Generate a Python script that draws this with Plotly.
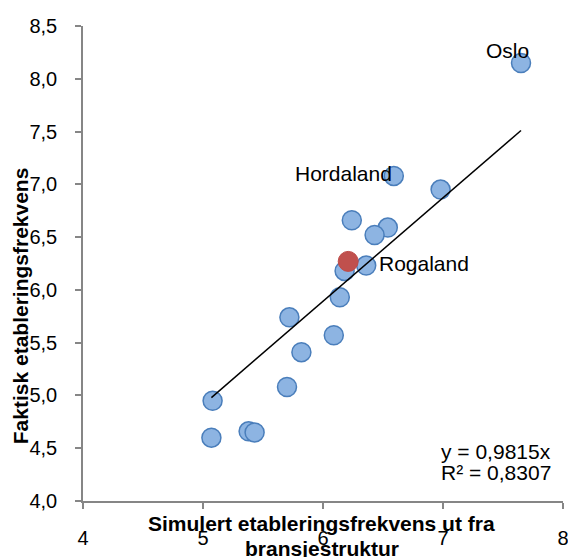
import plotly.graph_objects as go

# Data
region_x = [7.65, 6.59, 6.98, 6.24, 6.54, 6.43, 6.36, 6.18, 6.14, 5.72, 6.09, 5.82, 5.70, 5.08, 5.07, 5.38, 5.43]
region_y = [8.15, 7.08, 6.95, 6.66, 6.59, 6.52, 6.23, 6.18, 5.93, 5.74, 5.57, 5.41, 5.08, 4.95, 4.60, 4.66, 4.65]
rogaland_x = [6.21]
rogaland_y = [6.27]
trend_x = [5.07, 7.65]
trend_y = [4.98, 7.51]
label_names = ["Oslo", "Hordaland", "Rogaland"]
label_x = [7.65, 6.59, 6.21]
label_y = [8.15, 7.08, 6.27]
x_ticks = [4, 5, 6, 7, 8]
y_ticks = [4.0, 4.5, 5.0, 5.5, 6.0, 6.5, 7.0, 7.5, 8.0, 8.5]
equation_lines = ["y = 0,9815x", "R² = 0,8307"]

FONT = "Liberation Sans, Arial, sans-serif"

fig = go.Figure()
fig.add_trace(go.Scatter(
    x=region_x, y=region_y, mode="markers",
    marker=dict(size=19, color="#8DB4E2", line=dict(color="#4A7EBB", width=1.5)),
    showlegend=False, hoverinfo="x+y"))
fig.add_trace(go.Scatter(
    x=rogaland_x, y=rogaland_y, mode="markers",
    marker=dict(size=20, color="#C0504D", line=dict(color="#BE4B48", width=1)),
    showlegend=False))
fig.add_trace(go.Scatter(
    x=trend_x, y=trend_y, mode="lines",
    line=dict(color="black", width=1.5), showlegend=False))

# point labels
shifts = [
    dict(xanchor="right", xshift=10, yshift=12),
    dict(xanchor="right", xshift=0, yshift=2),
    dict(xanchor="left", xshift=29, yshift=-2),
]
for name, lx, ly, s in zip(label_names, label_x, label_y, shifts):
    fig.add_annotation(x=lx, y=ly, text=name, showarrow=False,
                       font=dict(size=21, color="black", family=FONT),
                       yanchor="middle", **s)

# trend equation
for line, ys in zip(equation_lines, [50, 29]):
    fig.add_annotation(xref="paper", yref="paper", x=0.741, y=0, yshift=ys,
                       text=line, showarrow=False,
                       xanchor="left", yanchor="middle", align="left",
                       font=dict(size=21, color="black", family=FONT))

# axis titles
fig.add_annotation(xref="paper", yref="paper", x=0.497, y=0, yshift=-22,
                   text="<b>Simulert etableringsfrekvens ut fra</b>", showarrow=False,
                   xanchor="center", yanchor="middle",
                   font=dict(size=21, color="black", family=FONT))
fig.add_annotation(xref="paper", yref="paper", x=0.497, y=0, yshift=-47,
                   text="<b>bransjestruktur</b>", showarrow=False,
                   xanchor="center", yanchor="middle",
                   font=dict(size=21, color="black", family=FONT))
fig.add_annotation(xref="paper", yref="paper", x=0, xshift=-63, y=0.41,
                   text="<b>Faktisk etableringsfrekvens</b>", showarrow=False,
                   textangle=-90, xanchor="center", yanchor="middle",
                   font=dict(size=21, color="black", family=FONT))

axis_common = dict(showgrid=False, zeroline=False, showline=True,
                   linecolor="#868686", linewidth=1.5, ticks="outside",
                   ticklen=6, tickcolor="#868686", tickwidth=1.5,
                   tickfont=dict(size=20, color="black", family=FONT))

fig.update_xaxes(range=[4, 8], tickvals=x_ticks, ticktext=[str(v) for v in x_ticks],
                 ticklabelstandoff=12, **axis_common)
fig.update_yaxes(range=[4, 8.5], tickvals=y_ticks,
                 ticktext=[f"{v:.1f}".replace(".", ",") for v in y_ticks],
                 ticklabelstandoff=14, **axis_common)

# page body has an 8px margin, so the figure is sized to fit the 576x557 window
fig.update_layout(width=568, height=549,
                  margin=dict(l=75, r=7, t=15, b=56),
                  plot_bgcolor="white", paper_bgcolor="white",
                  font=dict(family=FONT, color="black"))

fig.write_html("out.html")
